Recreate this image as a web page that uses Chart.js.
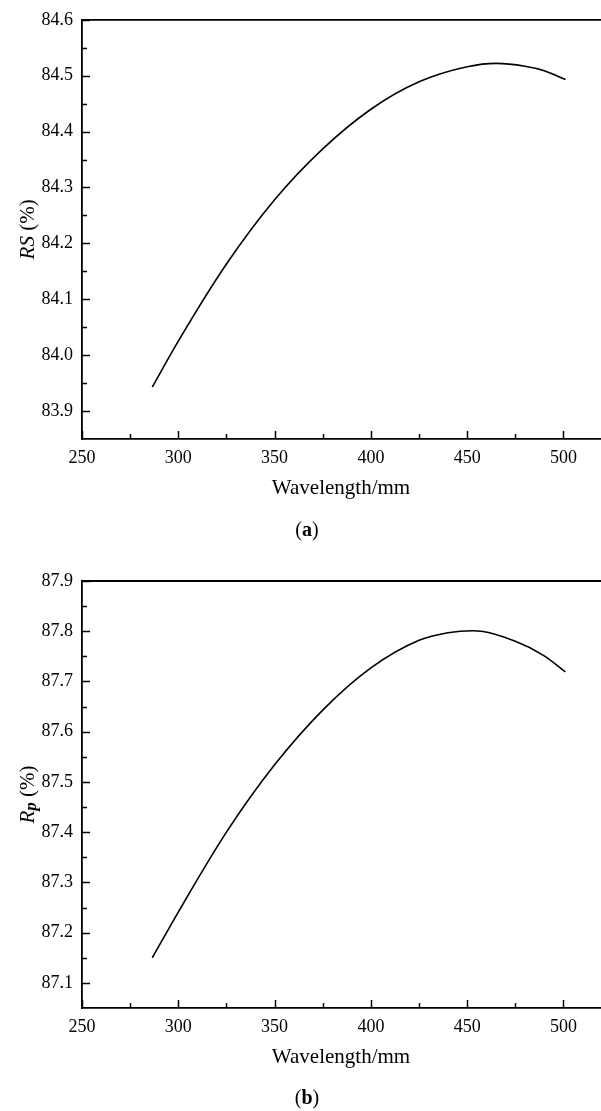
<!DOCTYPE html>
<html>
<head>
<meta charset="utf-8">
<title>Rs / Rp vs wavelength</title>
<script src="https://cdn.jsdelivr.net/npm/chart.js@4.4.0/dist/chart.umd.min.js"></script>
<style>
    html, body { margin: 0; padding: 0; background: #fff; overflow: hidden; }
    body { width: 601px; height: 1111px; position: relative; }
    .panel { position: absolute; left: 0; }
    .caption {
        position: absolute; left: 0; width: 614px; text-align: center;
        font-family: "Liberation Serif", "Times New Roman", serif; font-size: 20px; color: #000;
    }
</style>
</head>
<body>
<div class="panel" style="top:0"><canvas id="chartA" width="603" height="560"></canvas></div>
<div class="caption" style="top:518px">(<b>a</b>)</div>
<div class="panel" style="top:560px"><canvas id="chartB" width="603" height="551"></canvas></div>
<div class="caption" style="top:1086px">(<b>b</b>)</div>

<script>
// Data
const wavelengthA = [286.5, 300, 325, 350, 375, 400, 425, 450, 465, 480, 490, 501];
const rsValues    = [83.943, 84.025, 84.163, 84.278, 84.369, 84.440, 84.489, 84.516, 84.522, 84.517, 84.509, 84.493];

const wavelengthB = [286.5, 300, 325, 350, 375, 400, 425, 440, 453, 475, 490, 501];
const rpValues    = [87.150, 87.241, 87.400, 87.534, 87.643, 87.727, 87.782, 87.797, 87.801, 87.780, 87.751, 87.719];

// Tick labels
const xTicks  = [250, 300, 350, 400, 450, 500];
const xMinor  = [275, 325, 375, 425, 475];
const yTicksA = [83.9, 84.0, 84.1, 84.2, 84.3, 84.4, 84.5, 84.6];
const yMinorA = [83.95, 84.05, 84.15, 84.25, 84.35, 84.45, 84.55];
const yTicksB = [87.1, 87.2, 87.3, 87.4, 87.5, 87.6, 87.7, 87.8, 87.9];
const yMinorB = [87.15, 87.25, 87.35, 87.45, 87.55, 87.65, 87.75, 87.85];

const FONT = '"Liberation Serif", "Times New Roman", serif';

// Inward tick marks, top frame line and axis titles
const axisDecor = {
    id: 'axisDecor',
    afterDraw(chart, args, opts) {
        const ctx = chart.ctx;
        const area = chart.chartArea;
        const xs = chart.scales.x;
        const ys = chart.scales.y;

        ctx.save();
        ctx.strokeStyle = '#000';
        ctx.lineWidth = 1.8;

        // top frame line
        ctx.beginPath();
        ctx.moveTo(area.left, area.top);
        ctx.lineTo(area.right, area.top);
        ctx.stroke();

        ctx.lineWidth = 1.5;
        const tick = (x1, y1, x2, y2) => {
            ctx.beginPath();
            ctx.moveTo(x1, y1);
            ctx.lineTo(x2, y2);
            ctx.stroke();
        };

        xTicks.forEach(v => {
            const px = Math.round(xs.getPixelForValue(v)) + 0.5;
            tick(px, area.bottom, px, area.bottom - 8);
        });
        xMinor.forEach(v => {
            const px = Math.round(xs.getPixelForValue(v)) + 0.5;
            tick(px, area.bottom, px, area.bottom - 5);
        });
        opts.yMajor.forEach(v => {
            const py = Math.round(ys.getPixelForValue(v)) + 0.5;
            tick(area.left, py, area.left + 8, py);
        });
        opts.yMinor.forEach(v => {
            const py = Math.round(ys.getPixelForValue(v)) + 0.5;
            tick(area.left, py, area.left + 5, py);
        });

        // x axis title
        ctx.fillStyle = '#000';
        ctx.font = '21px ' + FONT;
        ctx.textAlign = 'center';
        ctx.textBaseline = 'middle';
        ctx.fillText('Wavelength/mm', (area.left + area.right) / 2 - 1, area.bottom + 49);

        // y axis title, rotated, with mixed styles
        ctx.translate(area.left - 54, (area.top + area.bottom) / 2);
        ctx.rotate(-Math.PI / 2);
        ctx.textAlign = 'left';
        let total = 0;
        opts.yTitle.forEach(p => { ctx.font = p.font; total += ctx.measureText(p.text).width; });
        let cx = -total / 2;
        opts.yTitle.forEach(p => {
            ctx.font = p.font;
            ctx.fillText(p.text, cx, p.dy || 0);
            cx += ctx.measureText(p.text).width;
        });
        ctx.restore();
    }
};

function makeChart(id, xs, ys, yMin, yMax, yMajor, yMinor, padTop, axisHeight, yTitle) {
    const ctx = document.getElementById(id).getContext('2d');
    return new Chart(ctx, {
        type: 'line',
        data: {
            datasets: [{
                data: xs.map((w, i) => ({ x: w, y: ys[i] })),
                borderColor: '#000',
                borderWidth: 1.6,
                pointRadius: 0,
                fill: false,
                cubicInterpolationMode: 'monotone'
            }]
        },
        options: {
            responsive: false,
            animation: false,
            layout: { padding: { top: padTop, right: 1, left: 0, bottom: 0 } },
            plugins: {
                legend: { display: false },
                tooltip: { enabled: false },
                axisDecor: { yMajor: yMajor, yMinor: yMinor, yTitle: yTitle }
            },
            scales: {
                x: {
                    type: 'linear',
                    min: 250,
                    max: 520,
                    grid: { display: false, drawTicks: false },
                    border: { display: true, color: '#000', width: 1.8 },
                    afterBuildTicks: scale => { scale.ticks = xTicks.map(v => ({ value: v })); },
                    afterFit: scale => { scale.height = axisHeight; },
                    ticks: {
                        color: '#000',
                        padding: 8,
                        maxRotation: 0,
                        font: { family: FONT, size: 18 },
                        callback: v => String(v)
                    }
                },
                y: {
                    min: yMin,
                    max: yMax,
                    grid: { display: false, drawTicks: false },
                    border: { display: true, color: '#000', width: 1.8 },
                    afterBuildTicks: scale => { scale.ticks = yMajor.map(v => ({ value: v })); },
                    afterFit: scale => { scale.width = 82; },
                    ticks: {
                        color: '#000',
                        padding: 9,
                        font: { family: FONT, size: 18 },
                        callback: v => Number(v).toFixed(1)
                    }
                }
            }
        },
        plugins: [axisDecor]
    });
}

makeChart('chartA', wavelengthA, rsValues, 83.85, 84.6, yTicksA, yMinorA, 13, 121, [
    { text: 'RS', font: 'italic 21px ' + FONT },
    { text: ' (%)', font: '21px ' + FONT }
]);

makeChart('chartB', wavelengthB, rpValues, 87.05, 87.9, yTicksB, yMinorB, 21, 103, [
    { text: 'R', font: 'italic 21px ' + FONT },
    { text: 'p', font: 'italic bold 17px ' + FONT, dy: 4 },
    { text: ' (%)', font: '21px ' + FONT }
]);
</script>
</body>
</html>
